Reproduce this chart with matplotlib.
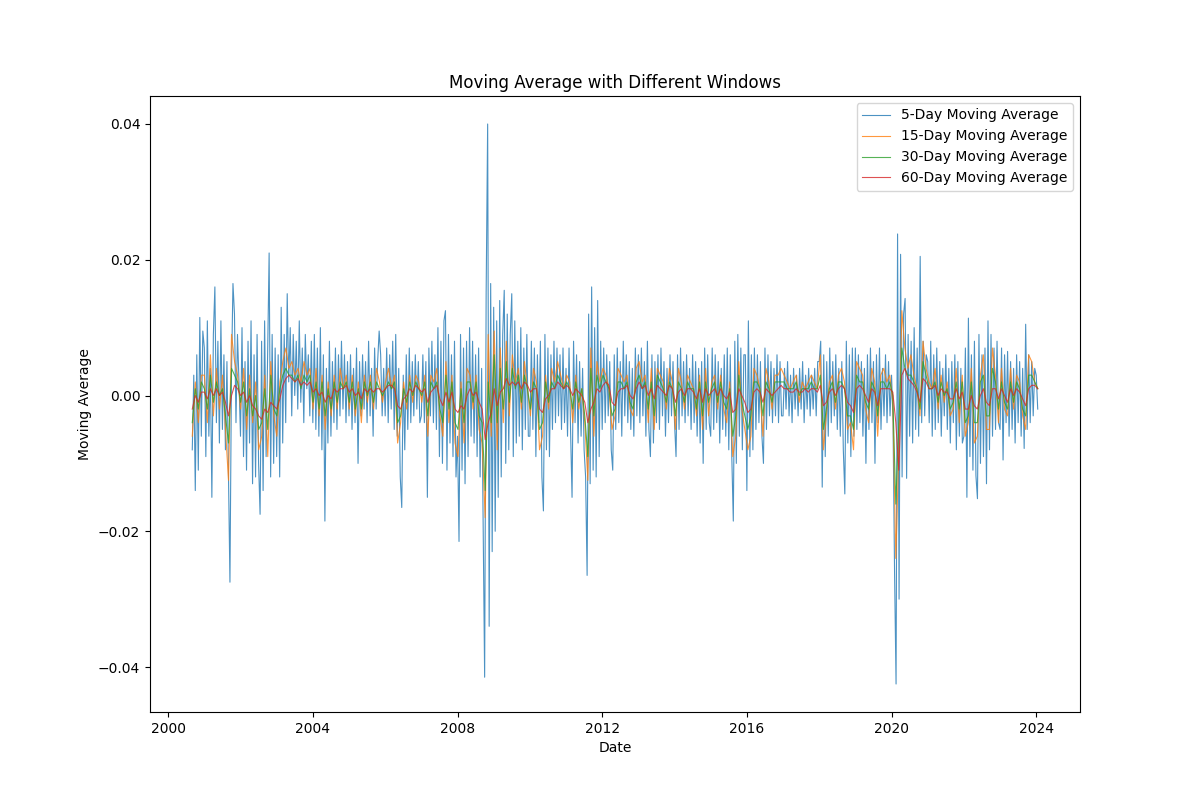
import numpy as np
import pandas as pd
import matplotlib
matplotlib.use("Agg")
import matplotlib.pyplot as plt

# values, in units of 1e-4, one row per year (2000-09 .. 2024-01)
ma5 = [
    -80, 30, -140, 60, -110, 115, -60, 95,
    70, -90, 110, -60, 40, -150, 90, 160, -40, 80, -70, 110, -50, 60, -80, 50, -110, -275, 30, 165, 120, -40, 90, 20,
    -60, 100, -90, 50, -110, 80, -70, 110, -130, 60, -120, 90, -100, -175, 80, -140, 110, -90, 60, 210, -120, 90, -100, 70,
    -90, 60, -120, 130, -70, 90, -40, 150, 20, 100, -30, 90, 0, 80, -20, 110, -10, 70, -40, 90, 10, 60, -30, 80,
    -40, 90, -50, 70, -60, 100, -80, 60, -185, 40, -70, 80, -60, 50, -40, 70, -50, 60, -30, 80, -20, 60, -40, 50,
    -30, 60, -50, 40, -40, 70, -100, 50, -30, 60, -20, 50, -40, 80, -30, 40, -60, 70, -20, 50, 95, 60, -30, 40,
    -30, 70, -40, 60, -20, 80, -50, 90, -60, 40, -120, -165, 30, -80, 60, -50, 70, -40, 50, -30, 60, -20, 50, -40,
    -30, 60, -40, 50, -150, 70, -30, 80, -40, 60, -50, 100, -90, 80, -100, 110, 125, -110, 90, -70, 60, -90, 80, -120,
    -60, -215, 90, -110, 70, -130, 80, -90, 100, -60, 80, -70, 60, -90, 70, -120, 40, -180, -415, 150, 400, -340, 165, -230,
    130, -200, 110, -150, 140, -120, 90, 155, -100, 120, -80, 90, 150, -90, 110, -70, 80, -60, 100, -80, 70, -50, 90, -60,
    -60, 80, -50, 70, -90, 60, -40, 80, -120, -170, 90, -80, 70, -90, 60, -50, 80, -40, 70, -30, 60, -50, 70, -40,
    40, -60, 70, -50, -150, 80, -40, 60, -70, 50, -60, 40, -80, -120, -265, 120, -130, 160, -110, 100, -120, 140, -90, 80,
    -50, 70, -40, 60, -30, 50, -80, -110, 60, -50, 70, -40, 50, -60, 80, -30, 60, -40, 50, -50, 40, -60, 70, -30,
    60, -40, 70, -30, 50, -60, 80, -50, -90, 60, -70, 50, -40, 60, -50, 70, -30, 50, -60, 40, -40, 60, -30, 50,
    -40, -90, 60, -50, 70, -30, 50, -40, 60, -30, 40, -50, 60, -40, 50, -60, 40, -70, 50, -100, 70, -50, 60, -40,
    -60, 70, -50, 60, -40, 50, -70, 40, -50, 60, -60, 70, -80, 60, -90, -185, 80, -100, 90, -60, 70, -80, 60, 60,
    -140, 110, -90, 60, -80, 70, -50, 60, -40, 50, -60, -100, 70, -50, 60, -30, 50, -40, 40, -30, 60, -40, 50, -30,
    -30, 40, -20, 50, -30, 30, -40, 40, -20, 30, -30, 40, -20, 50, -40, 30, -20, 40, -30, 30, -20, 40, -30, 50,
    50, 80, -135, 60, -90, 50, -60, 70, -40, 50, -30, 60, -50, 40, -60, 50, -80, -145, 80, -70, 60, -90, 70, -60,
    70, -50, 60, -40, 50, -60, 40, -100, 60, -50, 70, -40, 50, -100, 60, -40, 70, -50, 40, -30, 60, -40, 50, -30,
    30, -40, -260, -425, 238, -300, 208, -120, 120, 143, -122, 90, -60, 80, -70, 100, -50, 70, -60, 205, -40, 80, -30, 60,
    50, -40, 80, -60, 60, -50, 70, -40, 50, -60, 40, -30, 60, -50, 40, -70, 50, -40, 60, -80, 50, -60, 40, -70,
    -60, 70, -150, 114, -90, 60, -110, 80, -118, -152, 90, -100, 60, -90, 70, -130, 110, -80, 90, -60, 70, -50, 80, -40,
    -50, 70, -95, 60, -40, 65, -60, 50, -50, 40, -70, 60, -40, 50, -60, 40, -78, 105, -50, 60, -40, 50, -30, 40,
    30, -20,
]

ma15 = [
    -60, 20, -40, 30,
    30, -40, 60, -30, 40, -20, 30, -50, -125, 90, 50, 30,
    -20, 40, -50, 30, -40, 20, -80, -60, 30, -90, 50, -30,
    -60, 20, 50, 70, 40, 50, 30, 40, 20, 50, 30, 40,
    -20, 40, -30, 30, -50, 20, -30, 30, -20, 40, 10, 30,
    -20, 30, -30, 20, -40, 30, -10, 30, -20, 40, 20, -10,
    20, 40, 10, 30, -70, -40, 20, -20, 30, -10, 30, 20,
    -10, 30, -60, 30, 20, 40, -30, -60, 50, -40, 30, -70,
    -90, 20, -70, 40, 30, -20, 30, -50, -70, -180, 90, -60,
    95, -80, 70, -40, 80, -30, 60, 20, 40, -20, 50, 10,
    -30, 40, 20, -80, -60, 30, -20, 40, 20, 50, 30, 10,
    30, 20, -40, 30, -20, 10, -40, -125, 70, -60, 50, 20,
    40, 30, 10, -50, -30, 40, 30, 20, 30, -20, -30, 40,
    50, 20, 30, -40, 40, -50, 40, 30, 20, -20, 40, 20,
    -50, 40, 20, -20, 30, 20, 10, -30, 30, -50, 40, -30,
    20, 30, -20, 30, -20, -40, 20, -90, -60, 50, -20, -50,
    -80, -60, 40, 30, 10, -60, 40, 20, -20, 30, 30, 40,
    30, 20, 10, 20, 30, -10, 20, 10, 20, 30, 20, 10,
    60, -80, -30, 20, 30, -20, 30, 40, 20, -50, -40, -80,
    50, 40, 30, -20, -40, 40, 20, -60, 30, 40, 20, 30,
    -10, -240, -80, 125, 70, 40, 60, 30, 10, -30, 80, 40,
    20, 10, 40, -20, 30, -10, 20, -30, -20, 40, -40, 30,
    -60, -40, 40, -70, -60, 30, 60, -50, -50, 70, 30, -40,
    40, -20, -30, 40, -20, 30, 20, -30, -50, 60, 50, 20,
    10,
]

ma30 = [
    -40, 10, -20, 20,
    10, -20, 30, -10, 20, 0, 10, -30, -70, 40, 30, 20,
    -10, 20, -30, 10, -30, 0, -50, -40, 10, -50, 30, -20,
    -30, 10, 30, 40, 30, 30, 20, 30, 10, 30, 20, 30,
    -10, 20, -20, 20, -30, 10, -20, 20, -10, 20, 10, 20,
    -10, 20, -20, 10, -20, 20, 0, 20, -10, 20, 10, 0,
    10, 20, 10, 20, -40, -30, 10, -10, 20, 0, 20, 10,
    0, 20, -30, 20, 10, 20, -20, -40, 30, -20, 20, -40,
    -50, 10, -40, 20, 20, -10, 20, -30, -40, -140, 20, -40,
    60, -40, 40, -20, 50, -10, 40, 10, 30, -10, 30, 10,
    -20, 20, 10, -50, -40, 20, -10, 20, 10, 30, 20, 10,
    20, 10, -20, 20, -10, 10, -30, -90, 40, -30, 30, 10,
    30, 20, 10, -30, -20, 20, 20, 10, 20, -10, -20, 20,
    30, 10, 20, -20, 20, -30, 30, 20, 10, -10, 20, 10,
    -30, 20, 10, -10, 20, 10, 10, -20, 20, -30, 20, -10,
    10, 20, -10, 20, -10, -20, 10, -60, -30, 30, -10, -30,
    -50, -30, 20, 20, 10, -30, 20, 10, -10, 20, 20, 20,
    20, 10, 10, 10, 20, 0, 10, 10, 10, 20, 10, 10,
    30, -50, -20, 10, 20, -10, 20, 20, 10, -30, -30, -50,
    30, 20, 20, -10, -20, 20, 10, -30, 20, 20, 10, 20,
    0, -160, -40, 70, 40, 30, 30, 20, 10, -20, 50, 30,
    10, 10, 20, -10, 20, 0, 10, -20, -10, 20, -20, 20,
    -40, -30, 20, -40, -40, 20, 30, -30, -30, 40, 20, -20,
    20, -10, -20, 20, -10, 20, 10, -20, -30, 30, 30, 20,
    10,
]

ma60 = [
    -20, 0, -10, 5,
    5, -5, 10, 0, 10, 0, 5, -10, -30, 0, 15, 10,
    0, 5, -10, 0, -15, -20, -30, -35, -20, -25, -10, -15,
    -20, -5, 15, 25, 30, 25, 20, 25, 15, 20, 15, 20,
    5, 10, 0, 5, -10, 0, -5, 10, 5, 10, 10, 15,
    5, 10, 0, 5, -5, 10, 5, 10, 5, 10, 10, 5,
    10, 15, 15, 10, -15, -20, -5, 0, 10, 5, 15, 10,
    5, 10, -10, 5, 10, 15, -5, -15, 5, -10, 5, -20,
    -25, -15, -20, 0, 10, 0, 5, -10, -20, -65, -40, -25,
    10, -15, 5, 10, 25, 15, 20, 15, 20, 10, 20, 15,
    5, 10, 10, -20, -25, -5, 0, 10, 10, 20, 15, 10,
    15, 10, 0, 10, 5, 0, -10, -40, -20, -10, 10, 5,
    15, 20, 15, -10, -15, 5, 10, 10, 15, 0, -5, 10,
    20, 10, 15, 0, 10, -5, 15, 10, 5, 0, 15, 10,
    -10, 5, 10, 0, 10, 10, 5, -5, 10, -10, 10, 0,
    5, 10, 0, 10, 0, -5, 5, -25, -20, 10, 0, -10,
    -25, -20, 5, 10, 5, -10, 10, 5, 0, 5, 10, 15,
    10, 10, 5, 5, 10, 5, 5, 10, 5, 10, 10, 5,
    15, -15, -10, 5, 10, 0, 10, 15, 10, -10, -15, -25,
    10, 15, 10, 0, -10, 10, 5, -15, 10, 10, 10, 10,
    5, -40, -110, 30, 40, 25, 20, 15, 5, -10, 25, 20,
    10, 10, 15, 0, 10, 5, 5, -5, -5, 10, -5, 5,
    -20, -20, 0, -15, -20, 0, 10, -10, -15, 10, 10, -5,
    10, 0, -10, 10, 0, 10, 5, -5, -15, 10, 15, 15,
    10,
]

series = [
    (ma5, "5-Day Moving Average"),
    (ma15, "15-Day Moving Average"),
    (ma30, "30-Day Moving Average"),
    (ma60, "60-Day Moving Average"),
]

fig, ax = plt.subplots(figsize=(12, 8), dpi=100)

for vals, label in series:
    dates = pd.date_range("2000-09-01", "2024-01-15", periods=len(vals))
    ax.plot(dates, np.array(vals) * 1e-4, label=label, linewidth=0.8, alpha=0.8)

ax.set_title("Moving Average with Different Windows")
ax.set_xlabel("Date")
ax.set_ylabel("Moving Average")
ax.legend(loc="upper right")

fig.savefig("out.png")
